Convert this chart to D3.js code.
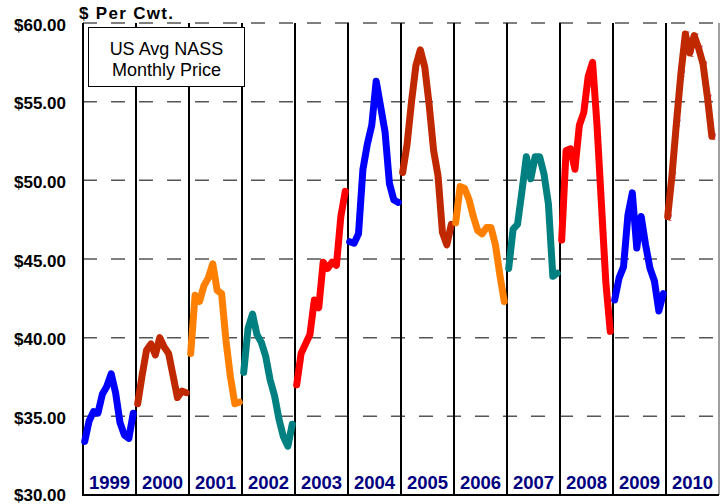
<!DOCTYPE html>
<html><head><meta charset="utf-8">
<script src="https://cdn.jsdelivr.net/npm/d3@7"></script>
<style>html,body{margin:0;padding:0;background:#fff;}svg{display:block;}</style>
</head><body>
<svg id="c" width="727" height="504"></svg>
<script>
const years = ["1999","2000","2001","2002","2003","2004","2005","2006","2007","2008","2009","2010"];
const colors = ["#0000ff","#c02800","#ff8000","#008080","#ff0000","#0000ff","#c02800","#ff8000","#008080","#ff0000","#0000ff","#c02800"];
const p1999 = [33.4,34.7,35.3,35.2,36.4,36.9,37.7,36.5,34.6,33.8,33.6,35.2];
const p2000 = [35.8,37.6,39.2,39.6,38.9,40.0,39.4,39.0,37.6,36.2,36.6,36.5];
const p2001 = [39.0,42.7,42.3,43.3,43.8,44.7,43.0,42.8,39.8,37.5,35.8,35.9];
const p2002 = [37.8,40.6,41.5,40.2,39.7,38.8,37.3,36.3,34.8,33.7,33.1,34.5];
const p2003 = [37.0,39.0,39.6,40.2,42.4,41.9,44.8,44.4,44.8,44.6,47.7,49.3];
const p2004 = [46.1,46.0,46.6,50.7,52.3,53.5,56.3,54.7,53.1,49.8,48.75,48.6];
const p2005 = [50.5,52.3,55.0,57.3,58.3,57.2,54.8,51.9,50.3,46.7,45.9,47.2];
const p2006 = [47.3,49.6,49.5,48.8,47.7,46.8,46.6,47.0,47.0,45.9,44.0,42.3];
const p2007 = [44.4,46.9,47.2,49.3,51.5,50.1,51.5,51.5,50.4,48.5,43.9,44.1];
const p2008 = [46.2,51.9,52.0,50.7,53.5,54.3,56.6,57.5,53.5,48.5,43.5,40.4];
const p2009 = [42.4,43.8,44.5,47.8,49.2,45.7,47.7,45.9,44.4,43.6,41.7,42.8];
const p2010 = [47.7,50.4,53.7,56.8,59.3,58.1,59.2,58.4,57.4,55.3,52.8];
const series = [p1999,p2000,p2001,p2002,p2003,p2004,p2005,p2006,p2007,p2008,p2009,p2010];
const yTicks = [30,35,40,45,50,55,60];
const yTickLabels = ["$30.00","$35.00","$40.00","$45.00","$50.00","$55.00","$60.00"];
const legendLines = ["US Avg NASS","Monthly Price"];
const unitLabel = "$ Per Cwt.";

const svg = d3.select("#c");
const L = 83, R = 719, T = 23, B = 495;
const x = d3.scaleLinear().domain([0, 144]).range([L, R]);
const y = d3.scaleLinear().domain([30, 60]).range([B, T]);

// gridlines
svg.append("g").selectAll("line").data(yTicks.filter(v => v > 30)).join("line")
  .attr("x1", L).attr("x2", R).attr("y1", d => y(d)).attr("y2", d => y(d))
  .attr("stroke", "#555").attr("stroke-width", 1.5).attr("stroke-dasharray", "14,14");

// right frame (grey)
svg.append("line").attr("x1", R).attr("x2", R).attr("y1", T).attr("y2", B)
  .attr("stroke", "#808080").attr("stroke-width", 1.5);

// year separators
svg.append("g").selectAll("line").data(d3.range(1, 12)).join("line")
  .attr("x1", d => x(d * 12)).attr("x2", d => x(d * 12)).attr("y1", T).attr("y2", B)
  .attr("stroke", "#000").attr("stroke-width", 2);

// left & bottom axis
svg.append("line").attr("x1", L).attr("x2", L).attr("y1", T).attr("y2", B + 1)
  .attr("stroke", "#000").attr("stroke-width", 2);
svg.append("line").attr("x1", L).attr("x2", R).attr("y1", B).attr("y2", B)
  .attr("stroke", "#000").attr("stroke-width", 2);

// y tick labels
svg.append("g").selectAll("text").data(yTicks).join("text")
  .attr("x", 66).attr("y", d => y(d) + (d === 30 ? 5.5 : 7.5)).attr("text-anchor", "end")
  .attr("font-family", "Liberation Sans, Arial, sans-serif").attr("font-weight", "bold")
  .attr("font-size", 17).attr("fill", "#000")
  .text((d, i) => yTickLabels[i]);

svg.append("text").attr("x", 79).attr("y", 18.5)
  .attr("font-family", "Liberation Sans, Arial, sans-serif").attr("font-weight", "bold")
  .attr("font-size", 17).attr("textLength", 94).attr("lengthAdjust", "spacing")
  .text(unitLabel);

// year labels
svg.append("g").selectAll("text").data(years).join("text")
  .attr("x", (d, i) => x(i * 12 + 6)).attr("y", 489)
  .attr("text-anchor", "middle")
  .attr("font-family", "Liberation Sans, Arial, sans-serif").attr("font-weight", "bold")
  .attr("font-size", 18.5).attr("fill", "#000080")
  .text(d => d);

// lines
const line = d3.line().x(d => x(d.t)).y(d => y(d.v));
series.forEach((vals, i) => {
  const pts = vals.map((v, m) => ({t: i * 12 + m + 0.38, v}));
  svg.append("path").datum(pts).attr("d", line)
    .attr("fill", "none").attr("stroke", colors[i]).attr("stroke-width", 7)
    .attr("stroke-linejoin", "round").attr("stroke-linecap", "round");
});

// 2010 point markers
const last = series.length - 1;
svg.append("g").selectAll("text").data(p2010).join("text")
  .attr("x", (d, m) => x(last * 12 + m + 0.38) + 1)
  .attr("y", d => y(d) + 4)
  .attr("font-family", "DejaVu Sans, sans-serif").attr("font-size", 9).attr("font-style", "italic")
  .attr("fill", "#c02800").text("ℓ");

// legend box
svg.append("rect").attr("x", 88.5).attr("y", 27.5).attr("width", 156).attr("height", 59)
  .attr("fill", "#fff").attr("stroke", "#000").attr("stroke-width", 1);
svg.append("g").selectAll("text").data(legendLines).join("text")
  .attr("x", 166.5).attr("y", (d, i) => 55 + i * 21).attr("text-anchor", "middle")
  .attr("font-family", "Liberation Sans, Arial, sans-serif").attr("font-size", 18)
  .attr("fill", "#000").text(d => d);
</script>
</body></html>
